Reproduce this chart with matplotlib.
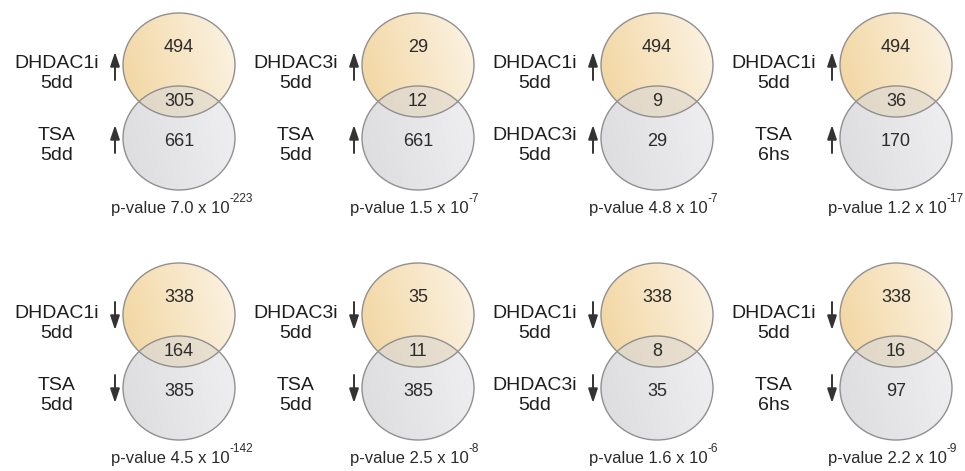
import numpy as np
import matplotlib
matplotlib.use("Agg")
import matplotlib.pyplot as plt
from matplotlib.patches import Ellipse
from matplotlib.colors import to_rgb

plt.rcParams["font.family"] = ["Liberation Sans", "DejaVu Sans"]

# gene sets compared in each column (treatment, time point)
first_set = [("DHDAC1i", "5dd"), ("DHDAC3i", "5dd"), ("DHDAC1i", "5dd"), ("DHDAC1i", "5dd")]
second_set = [("TSA", "5dd"), ("TSA", "5dd"), ("DHDAC3i", "5dd"), ("TSA", "6hs")]

# up-regulated genes (top row)
up_first = [494, 29, 494, 494]
up_shared = [305, 12, 9, 36]
up_second = [661, 661, 29, 170]
up_p_mant = ["7.0", "1.5", "4.8", "1.2"]
up_p_exp = ["-223", "-7", "-7", "-17"]

# down-regulated genes (bottom row)
down_first = [338, 35, 338, 338]
down_shared = [164, 11, 8, 16]
down_second = [385, 385, 35, 97]
down_p_mant = ["4.5", "2.5", "1.6", "2.2"]
down_p_exp = ["-142", "-8", "-6", "-9"]

W, H = 965, 471
fig = plt.figure(figsize=(W / 100, H / 100), dpi=100)
ax = fig.add_axes([0, 0, 1, 1])
ax.set_xlim(0, W)
ax.set_ylim(H, 0)
ax.axis("off")

EW, EH = 112, 104          # circle size (px)
TEXT = "#2b2b2b"
EDGE = "#909090"


def gradient(c_left, c_right, n=64):
    """horizontal colour ramp with a slight diagonal tilt"""
    xx, yy = np.meshgrid(np.linspace(0, 1, n), np.linspace(0, 1, n))
    t = np.clip(0.8 * xx + 0.2 * (1 - yy), 0, 1)[..., None]
    return (1 - t) * np.array(to_rgb(c_left)) + t * np.array(to_rgb(c_right))


def draw_venn(cx, base, n1, n12, n2, names1, names2, up, mant, expo):
    y1, y2 = base + 65, base + 138
    e1 = Ellipse((cx, y1), EW, EH, facecolor="none", edgecolor="none")
    e2 = Ellipse((cx, y2), EW, EH, facecolor="none", edgecolor="none")
    ax.add_patch(e1)
    ax.add_patch(e2)

    im1 = ax.imshow(gradient("#f2d59f", "#fcf4e6"), extent=(cx - EW / 2, cx + EW / 2, y1 + EH / 2, y1 - EH / 2),
                    interpolation="bicubic", aspect="auto", zorder=1)
    im1.set_clip_path(e1)
    im2 = ax.imshow(gradient("#dcdcdf", "#f0f0f2"), extent=(cx - EW / 2, cx + EW / 2, y2 + EH / 2, y2 - EH / 2),
                    interpolation="bicubic", aspect="auto", zorder=2)
    im2.set_clip_path(e2)

    # tan tint where the two sets intersect
    lens = Ellipse((cx, y2), EW, EH, facecolor="#e0c38e", alpha=0.32, edgecolor="none", zorder=3)
    ax.add_patch(lens)
    lens.set_clip_path(e1)

    for yc in (y1, y2):
        ax.add_patch(Ellipse((cx, yc), EW, EH, facecolor="none", edgecolor=EDGE, lw=1.0, zorder=4))

    ax.text(cx, base + 47, str(n1), ha="center", va="center", fontsize=13, color=TEXT, zorder=5)
    ax.text(cx, base + 101, str(n12), ha="center", va="center", fontsize=13, color=TEXT, zorder=5)
    ax.text(cx, base + 142, str(n2), ha="center", va="center", fontsize=13, color=TEXT, zorder=5)

    lx, arrow_x = cx - 122, cx - 64
    for (name, when), ly in ((names1, base + 63), (names2, base + 136)):
        ax.text(lx, ly, name, ha="center", va="center", fontsize=14, color="#1e1e1e")
        ax.text(lx, ly + 20, when, ha="center", va="center", fontsize=14, color="#1e1e1e")
        tail, tip = (ly + 17, ly - 11) if up else (ly - 11, ly + 17)
        ax.annotate("", xy=(arrow_x, tip), xytext=(arrow_x, tail),
                    arrowprops=dict(arrowstyle="-|>,head_width=0.2,head_length=0.6",
                                    lw=1.4, color="#333333", mutation_scale=14,
                                    shrinkA=0, shrinkB=0))

    # p-value with a small raised exponent placed right after the mantissa
    main = ax.text(cx - 9, base + 208, f"p-value {mant} x 10", ha="center", va="center",
                   fontsize=12, color=TEXT)
    ax.annotate(expo, xy=(1.0, 0.72), xycoords=main, ha="left", va="bottom",
                fontsize=8.5, color=TEXT)


xs = [179 + 239 * i for i in range(4)]
for i, cx in enumerate(xs):
    draw_venn(cx, 0, up_first[i], up_shared[i], up_second[i], first_set[i], second_set[i],
              True, up_p_mant[i], up_p_exp[i])
    draw_venn(cx, 250, down_first[i], down_shared[i], down_second[i], first_set[i], second_set[i],
              False, down_p_mant[i], down_p_exp[i])

fig.savefig("out.png", dpi=100)
